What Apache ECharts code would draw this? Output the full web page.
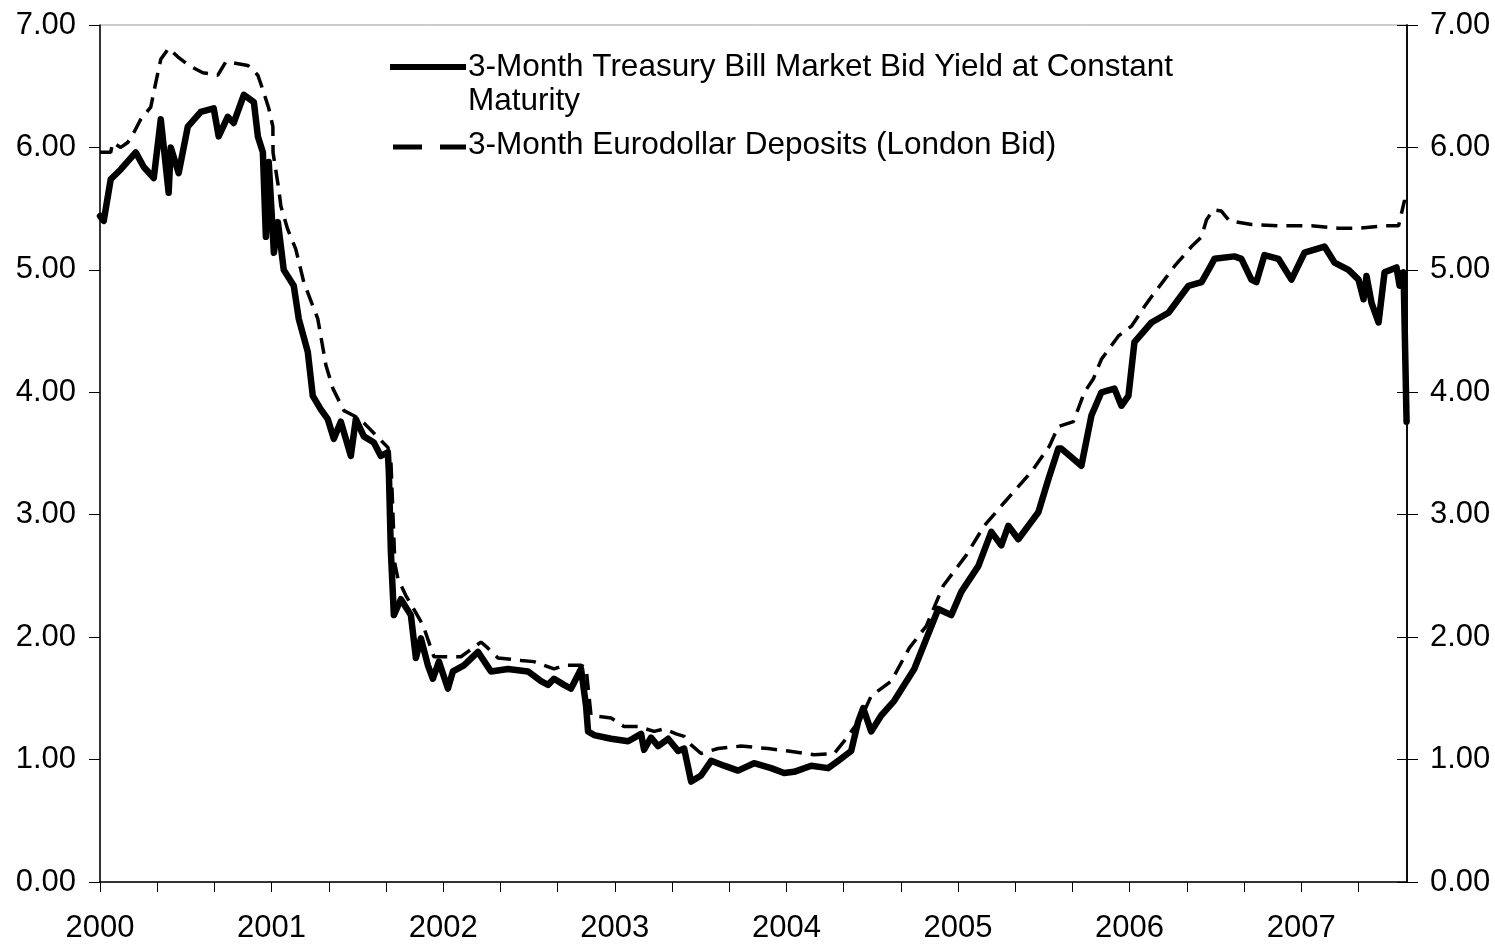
<!DOCTYPE html>
<html>

<head>
    <meta charset="utf-8" />
    <style type="text/css">
        html,
        body {
            margin: 0;
            padding: 0;
            background: #fff;
        }
    </style>
    <script src="https://cdn.jsdelivr.net/npm/echarts@6/dist/echarts.min.js"></script>
</head>

<body>
    <div id="main" style="width: 1495px; height: 944px"></div>
    <script type="text/javascript">
        // months since Jan 2000
        var tbillMonths = [0, 0.26, 0.75, 1.45, 2.5, 3.06, 3.76, 4.25, 4.8, 4.95, 5.5, 6.14, 7.05, 7.95, 8.3, 8.93, 9.35,
            10.06, 10.76, 11.04, 11.39, 11.6, 11.8, 12.16, 12.44, 12.85, 13.55, 13.9, 14.53, 14.88, 15.44, 15.93,
            16.35, 16.84, 17.54, 17.89, 18.45, 19.15, 19.64, 20.13, 20.2, 20.34, 20.55, 21.04, 21.74, 22.09, 22.44,
            22.93, 23.28, 23.7, 24.33, 24.68, 25.45, 26.43, 27.34, 28.53, 29.93, 30.84, 31.33, 31.75, 32.45, 32.94,
            33.64, 33.99, 34.13, 34.55, 35.74, 36.93, 37.84, 38.05, 38.53, 39.03, 39.73, 40.43, 40.85, 41.34, 42.03,
            42.74, 43.64, 44.62, 45.74, 46.93, 47.84, 48.54, 49.74, 50.92, 51.62, 52.53, 53.02, 53.37, 53.93, 54.63,
            55.54, 56.94, 58.62, 59.53, 60.23, 61.42, 62.33, 63.03, 63.52, 64.22, 65.62, 66.32, 67.02, 67.23, 68.63,
            69.33, 70.03, 70.94, 71.43, 71.92, 72.34, 73.53, 74.72, 75.42, 76.12, 77.03, 77.52, 77.94, 79.33, 79.82,
            80.52, 80.87, 81.43, 82.41, 83.32, 84.23, 85.63, 86.33, 87.31, 88.01, 88.36, 88.57, 88.92, 89.41, 89.83,
            90.67, 90.88, 91.16, 91.37];
        var tbillYield = [5.44, 5.40, 5.74, 5.82, 5.96, 5.84, 5.75, 6.23, 5.63, 6.00, 5.79, 6.17, 6.29, 6.32, 6.09, 6.25, 6.20,
            6.43, 6.37, 6.09, 5.96, 5.27, 5.88, 5.14, 5.39, 5.00, 4.87, 4.60, 4.33, 3.97, 3.86, 3.78,
            3.62, 3.76, 3.48, 3.78, 3.64, 3.59, 3.48, 3.51, 3.35, 2.70, 2.18, 2.31, 2.18, 1.83, 1.99,
            1.77, 1.66, 1.80, 1.58, 1.72, 1.77, 1.88, 1.72, 1.74, 1.72, 1.64, 1.61, 1.66, 1.61, 1.58,
            1.74, 1.44, 1.23, 1.20, 1.17, 1.15, 1.21, 1.08, 1.18, 1.11, 1.17, 1.07, 1.09, 0.82, 0.87,
            0.99, 0.95, 0.91, 0.97, 0.93, 0.89, 0.90, 0.95, 0.93, 0.99, 1.07, 1.31, 1.42, 1.23, 1.36,
            1.48, 1.74, 2.23, 2.18, 2.37, 2.58, 2.86, 2.75, 2.91, 2.80, 3.02, 3.29, 3.54, 3.54, 3.40,
            3.81, 4.00, 4.03, 3.89, 3.97, 4.41, 4.57, 4.65, 4.76, 4.87, 4.90, 5.00, 5.09, 5.11, 5.09,
            4.92, 4.90, 5.12, 5.09, 4.92, 5.14, 5.19, 5.06, 5.00, 4.92, 4.76, 4.95, 4.73, 4.57, 4.98,
            5.02, 4.87, 4.98, 3.76];

        var euroMonths = [0, 0.75, 0.89, 1.45, 1.94, 2.36, 2.85, 3.55, 3.9, 4.25, 4.8, 5.44, 6.21, 7.19, 8.24, 8.8, 9.35,
            10.34, 11.04, 11.39, 11.8, 12.09, 12.1, 12.5, 12.65, 13.13, 13.69, 14.25, 15.23, 15.8, 16.29, 17.06,
            17.89, 18.45, 19.29, 20.13, 20.34, 20.62, 20.83, 21.39, 22.58, 23.35, 25.24, 26.64, 27.13, 27.83, 29.44,
            30.35, 31.75, 32.45, 33.64, 33.99, 34.34, 35.74, 36.65, 37.63, 38.75, 39.45, 40.29, 40.85, 41.34, 42.03,
            43.22, 44.83, 46.72, 48.13, 49.94, 51.34, 52.04, 53.23, 53.93, 55.33, 56.59, 57.78, 58.97, 60.58, 61.84,
            63.24, 65.13, 66.39, 67.02, 68.07, 68.84, 69.47, 70.03, 71.22, 72.13, 73.04, 73.53, 74.44, 75.14, 76.33,
            77.03, 77.38, 77.87, 78.42, 78.98, 80.52, 82.41, 84.72, 86.61, 88.01, 89.83, 90.81, 91.23, 91.37];
        var euroYield = [5.96, 5.96, 6.04, 6.00, 6.04, 6.12, 6.23, 6.33, 6.53, 6.72, 6.81, 6.74, 6.67, 6.61, 6.59, 6.70, 6.69,
            6.67, 6.59, 6.47, 6.32, 6.17, 5.96, 5.66, 5.52, 5.33, 5.17, 4.90, 4.60, 4.22, 4.03, 3.85,
            3.80, 3.75, 3.65, 3.55, 3.45, 2.60, 2.48, 2.34, 2.10, 1.84, 1.84, 1.96, 1.91, 1.83, 1.81,
            1.80, 1.74, 1.77, 1.77, 1.75, 1.36, 1.34, 1.27, 1.27, 1.23, 1.25, 1.21, 1.19, 1.12, 1.05,
            1.09, 1.11, 1.09, 1.07, 1.04, 1.05, 1.15, 1.34, 1.52, 1.64, 1.91, 2.09, 2.42, 2.67, 2.91,
            3.10, 3.35, 3.56, 3.72, 3.76, 4.00, 4.11, 4.27, 4.46, 4.54, 4.70, 4.78, 4.92, 5.03, 5.19,
            5.27, 5.41, 5.49, 5.48, 5.40, 5.37, 5.36, 5.36, 5.34, 5.34, 5.36, 5.36, 5.57, 5.50];

        var tbillName = "3-Month Treasury Bill Market Bid Yield at Constant";
        var tbillName2 = "Maturity";
        var euroName = "3-Month Eurodollar Deposits (London Bid)";

        function zip(xs, ys) {
            return xs.map(function (x, i) {
                return [x, ys[i]];
            });
        }

        var font = "Liberation Sans, Arial, sans-serif";
        var chart = echarts.init(document.getElementById("main"));

        var yAxisBase = {
            type: "value",
            min: 0,
            max: 7,
            interval: 1,
            splitLine: { show: false },
            axisLine: { show: true, lineStyle: { color: "#000", width: 1.5 } },
            axisTick: { show: true, length: 11, lineStyle: { color: "#000", width: 1 } },
            axisLabel: {
                color: "#000",
                fontSize: 31,
                fontFamily: font,
                margin: 24,
                formatter: function (v) {
                    return v.toFixed(2);
                },
            },
        };

        var option = {
            animation: false,
            backgroundColor: "#fff",
            grid: {
                left: 100,
                right: 88,
                top: 25,
                bottom: 60,
                show: true,
                borderColor: "#999",
                borderWidth: 1,
            },
            xAxis: {
                type: "value",
                min: 0,
                max: 91.4,
                interval: 4,
                splitLine: { show: false },
                axisLine: { show: true, lineStyle: { color: "#000", width: 1.5 } },
                axisTick: { show: true, length: 10, lineStyle: { color: "#000", width: 1 } },
                axisLabel: {
                    color: "#000",
                    fontSize: 31,
                    fontFamily: font,
                    margin: 31,
                    showMaxLabel: false,
                    formatter: function (v) {
                        var m = Math.round(v);
                        return Math.abs(v - m) < 1e-6 && m % 12 === 0 ? String(2000 + m / 12) : "";
                    },
                },
            },
            yAxis: [
                Object.assign({}, yAxisBase, { position: "left" }),
                Object.assign({}, yAxisBase, { position: "right", axisLabel: Object.assign({}, yAxisBase.axisLabel, { margin: 23 }) }),
                Object.assign({}, yAxisBase, {
                    position: "right",
                    axisTick: { show: true, inside: true, length: 10, lineStyle: { color: "#000", width: 1 } },
                    axisLabel: { show: false },
                }),
            ],
            series: [
                {
                    name: euroName,
                    type: "line",
                    showSymbol: false,
                    symbol: "none",
                    data: zip(euroMonths, euroYield),
                    lineStyle: { color: "#000", width: 3.5, type: [16, 9] },
                    z: 2,
                },
                {
                    name: tbillName,
                    type: "line",
                    showSymbol: false,
                    symbol: "none",
                    data: zip(tbillMonths, tbillYield),
                    lineStyle: { color: "#000", width: 6.5, join: "round", cap: "round" },
                    z: 3,
                },
            ],
            graphic: [
                {
                    type: "line",
                    shape: { x1: 390, y1: 67, x2: 466, y2: 67 },
                    style: { stroke: "#000", lineWidth: 6 },
                },
                {
                    type: "text",
                    left: 468,
                    top: 50,
                    style: { text: tbillName + "\n" + tbillName2, fill: "#000", font: "31.5px " + font, lineHeight: 34 },
                },
                {
                    type: "line",
                    shape: { x1: 393, y1: 147, x2: 466, y2: 147 },
                    style: { stroke: "#000", lineWidth: 5, lineDash: [29, 18] },
                },
                {
                    type: "text",
                    left: 468,
                    top: 129,
                    style: { text: euroName, fill: "#000", font: "31.5px " + font },
                },
            ],
        };

        chart.setOption(option);
    </script>
</body>

</html>
